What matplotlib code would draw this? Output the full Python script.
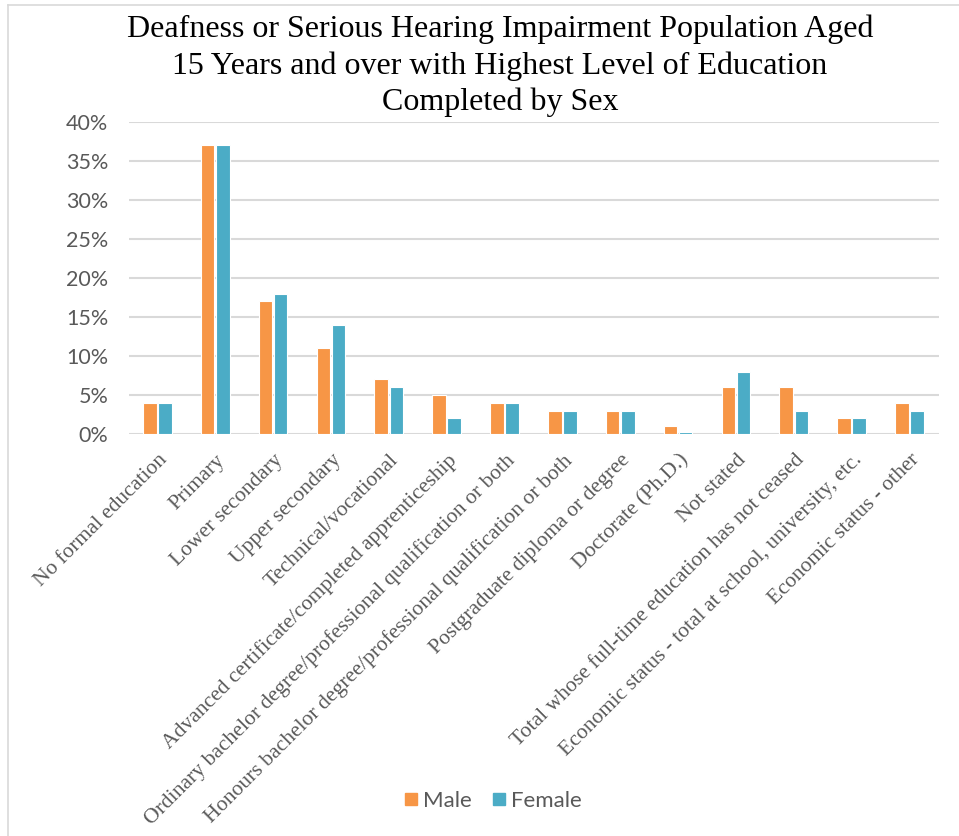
import numpy as np
import matplotlib.pyplot as plt
from matplotlib.lines import Line2D

categories = [
    "No formal education", "Primary", "Lower secondary", "Upper secondary",
    "Technical/vocational", "Advanced certificate/completed apprenticeship",
    "Ordinary bachelor degree/professional qualification or both",
    "Honours bachelor degree/professional qualification or both",
    "Postgraduate diploma or degree", "Doctorate (Ph.D.)", "Not stated",
    "Total whose full-time education has not ceased",
    "Economic status - total at school, university, etc.",
    "Economic status - other",
]
male = [4, 37, 17, 11, 7, 5, 4, 3, 3, 1, 6, 6, 2, 4]
female = [4, 37, 18, 14, 6, 2, 4, 3, 3, 0.2, 8, 3, 2, 3]
yticks = [0, 5, 10, 15, 20, 25, 30, 35, 40]

orange = "#F79646"
blue = "#4BACC6"
grey_txt = "#595959"

W, H = 959, 836
fig = plt.figure(figsize=(W / 100, H / 100), dpi=100)
ax = fig.add_axes([129 / W, 1 - 434 / H, (939 - 129) / W, (434 - 122) / H])

x = np.arange(len(categories))
bw = 0.235
ax.bar(x - 0.14, male, bw, color=orange, edgecolor="white", linewidth=0.8, zorder=3)
ax.bar(x + 0.12, female, bw, color=blue, edgecolor="white", linewidth=0.8, zorder=3)

ax.set_xlim(-0.5, len(categories) - 0.5)
ax.set_ylim(0, 40)
ax.set_yticks(yticks)
ax.set_yticklabels([f"{v}%" for v in yticks], family="Lato", fontsize=15.5, color=grey_txt)
ax.yaxis.grid(True, color="#D9D9D9", linewidth=1.5, zorder=0)
ax.tick_params(axis="y", length=0, pad=15)
ax.tick_params(axis="x", length=0, pad=12)
for s in ax.spines.values():
    s.set_visible(False)

ax.set_xticks(x)
ax.set_xticklabels(categories, rotation=45, ha="right", rotation_mode="anchor",
                   family="Liberation Serif", fontsize=15.6, color=grey_txt)

fig.text(500 / W, 1 - 15 / H,
         "Deafness or Serious Hearing Impairment Population Aged\n"
         "15 Years and over with Highest Level of Education\n"
         "Completed by Sex",
         ha="center", va="top", family="Liberation Serif", fontsize=23,
         linespacing=1.29, color="black")

handles = [Line2D([], [], marker="s", linestyle="", markersize=9, color=orange),
           Line2D([], [], marker="s", linestyle="", markersize=9, color=blue)]
leg = fig.legend(handles, ["Male", "Female"], loc="center", bbox_to_anchor=(492 / W, 1 - 801 / H),
                 ncol=2, frameon=False, handlelength=0.8, handletextpad=0.15, columnspacing=0.8,
                 prop={"family": "Lato", "size": 16})
for t in leg.get_texts():
    t.set_color(grey_txt)

# chart area border (top and left edges)
fig.add_artist(Line2D([8 / W, 1], [1 - 5 / H, 1 - 5 / H], color="#D9D9D9", linewidth=1.2))
fig.add_artist(Line2D([8 / W, 8 / W], [0, 1 - 5 / H], color="#D9D9D9", linewidth=1.2))

fig.savefig("out.png", dpi=100, facecolor="white")
